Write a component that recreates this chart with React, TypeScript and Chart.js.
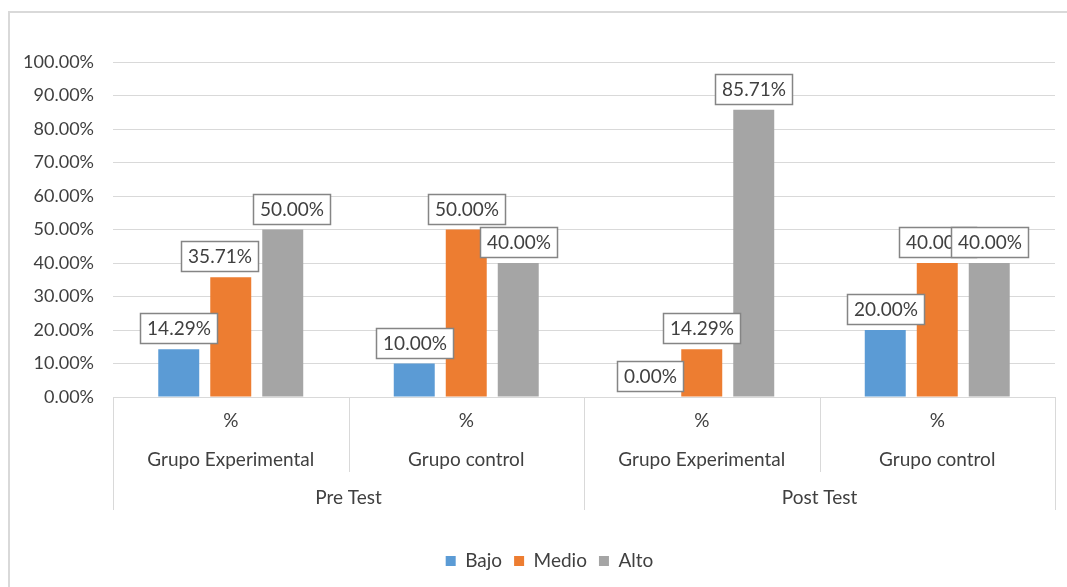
import React, { useEffect, useRef } from 'react';
import { Chart, registerables } from 'chart.js';

Chart.register(...registerables);

// ---- data ----
const groupLabels = [
  ['%', 'Grupo Experimental'],
  ['%', 'Grupo control'],
  ['%', 'Grupo Experimental'],
  ['%', 'Grupo control'],
];
const phaseLabels = ['Pre Test', 'Post Test'];
const seriesNames = ['Bajo', 'Medio', 'Alto'];
const bajoValues = [14.29, 10.0, 0.0, 20.0];
const medioValues = [35.71, 50.0, 14.29, 40.0];
const altoValues = [50.0, 40.0, 85.71, 40.0];
const yMin = 0;
const yMax = 100;
const yStep = 10;

const COLORS = ['#5B9BD5', '#ED7D31', '#A5A5A5'];
const FONT = 'Lato, "Noto Sans", sans-serif';
const TEXT = '#404040';
const LINE = '#D9D9D9';

const borderPlugin = {
  id: 'outerBorder',
  beforeDraw(chart: any) {
    const { ctx, width, height } = chart;
    ctx.save();
    ctx.fillStyle = '#ffffff';
    ctx.fillRect(0, 0, width, height);
    ctx.fillStyle = LINE;
    ctx.fillRect(8, 11, width - 8, 2);
    ctx.fillRect(8, 11, 2, height - 11);
    ctx.restore();
  },
};

// Excel's legend sits a little right of the canvas centre
const legendShiftPlugin = {
  id: 'legendShift',
  afterLayout(chart: any, _args: any, opts: any) {
    if (chart.legend) {
      chart.legend.left += opts.dx || 0;
      chart.legend.right += opts.dx || 0;
    }
  },
};

const tablePlugin = {
  id: 'categoryTable',
  afterDraw(chart: any) {
    const { ctx, chartArea } = chart;
    const x = chart.scales.x;
    const x2 = chart.scales.x2;
    ctx.save();
    ctx.strokeStyle = LINE;
    ctx.lineWidth = 1;
    // baseline
    ctx.beginPath();
    ctx.moveTo(chartArea.left, Math.round(chartArea.bottom) + 0.5);
    ctx.lineTo(chartArea.right, Math.round(chartArea.bottom) + 0.5);
    ctx.stroke();
    // inner separators
    for (let i = 0; i <= groupLabels.length; i++) {
      const px = Math.round(x.getPixelForValue(i - 0.5)) + 0.5;
      ctx.beginPath();
      ctx.moveTo(px, chartArea.bottom);
      ctx.lineTo(px, x.bottom);
      ctx.stroke();
    }
    // outer separators
    for (let j = 0; j <= phaseLabels.length; j++) {
      const px = Math.round(x2.getPixelForValue(j - 0.5)) + 0.5;
      ctx.beginPath();
      ctx.moveTo(px, chartArea.bottom);
      ctx.lineTo(px, x2.top + 38);
      ctx.stroke();
    }
    ctx.restore();
  },
};

const labelPlugin = {
  id: 'boxLabels',
  afterDatasetsDraw(chart: any, _args: any, opts: any) {
    const ctx = chart.ctx;
    ctx.save();
    ctx.font = `${opts.size}px ${FONT}`;
    ctx.textAlign = 'center';
    ctx.textBaseline = 'middle';
    chart.data.datasets.forEach((ds: any, di: number) => {
      const meta = chart.getDatasetMeta(di);
      meta.data.forEach((el: any, i: number) => {
        const v = ds.data[i] as number;
        const text = v.toFixed(2) + '%';
        const w = Math.round(ctx.measureText(text).width + 13);
        const h = 30;
        const cx = el.x + ((opts.shift && opts.shift[`${di}-${i}`]) || 0);
        const bottom = el.y - 6;
        const left = Math.round(cx - w / 2);
        const top = Math.round(bottom - h);
        ctx.fillStyle = '#ffffff';
        ctx.fillRect(left, top, w, h);
        ctx.strokeStyle = '#858585';
        ctx.lineWidth = 1.5;
        ctx.strokeRect(left + 0.5, top + 0.5, w, h);
        ctx.fillStyle = TEXT;
        ctx.fillText(text, left + w / 2 + 0.5, top + h / 2 + 1);
      });
    });
    ctx.restore();
  },
};

export default function App() {
  const canvasRef = useRef<HTMLCanvasElement | null>(null);

  useEffect(() => {
    if (!canvasRef.current) return;
    const seriesValues = [bajoValues, medioValues, altoValues];
    const chart = new Chart(canvasRef.current, {
      type: 'bar',
      data: {
        labels: groupLabels,
        datasets: seriesNames.map((name, k) => ({
          label: name,
          data: seriesValues[k],
          backgroundColor: COLORS[k],
          borderWidth: 0,
          categoryPercentage: 0.6624,
          barPercentage: 0.788,
        })),
      },
      options: {
        animation: false,
        responsive: true,
        maintainAspectRatio: false,
        events: [],
        layout: { padding: { left: 0, right: 12, top: 62, bottom: 6.5 } },
        scales: {
          y: {
            min: yMin,
            max: yMax,
            afterFit: (s: any) => {
              s.width = 113;
            },
            ticks: {
              stepSize: yStep,
              padding: 19,
              color: TEXT,
              font: { family: FONT, size: 18 },
              callback: (v: any) => Number(v).toFixed(2) + '%',
            },
            grid: { color: LINE, lineWidth: 1, drawTicks: false },
            border: { display: false },
          },
          x: {
            type: 'category',
            offset: true,
            weight: 0,
            afterFit: (s: any) => {
              s.height = 75;
            },
            grid: { display: false, drawTicks: false },
            border: { display: false },
            ticks: {
              padding: 4.5,
              color: TEXT,
              maxRotation: 0,
              autoSkip: false,
              font: { family: FONT, size: 19, lineHeight: 39 / 19 },
            },
          },
          x2: {
            type: 'category',
            position: 'bottom',
            labels: phaseLabels,
            offset: true,
            weight: 1,
            afterFit: (s: any) => {
              s.height = 67.5;
            },
            grid: { display: false, drawTicks: false },
            border: { display: false },
            ticks: {
              padding: 14.5,
              color: TEXT,
              maxRotation: 0,
              autoSkip: false,
              font: { family: FONT, size: 19, lineHeight: 1.2 },
            },
          },
        },
        plugins: {
          legend: {
            position: 'bottom',
            labels: {
              boxWidth: 10,
              boxHeight: 10,
              padding: 12,
              color: TEXT,
              font: { family: FONT, size: 19 },
            },
          },
          tooltip: { enabled: false },
          legendShift: { dx: 22 },
          boxLabels: { size: 19, shift: { '1-0': -11, '2-0': 9 } },
        } as any,
      },
      plugins: [borderPlugin, legendShiftPlugin, tablePlugin, labelPlugin],
    } as any);
    return () => chart.destroy();
  }, []);

  return (
    <div style={{ position: 'fixed', left: 0, top: 0, width: 1067, height: 587, background: '#fff' }}>
      <canvas ref={canvasRef} />
    </div>
  );
}
